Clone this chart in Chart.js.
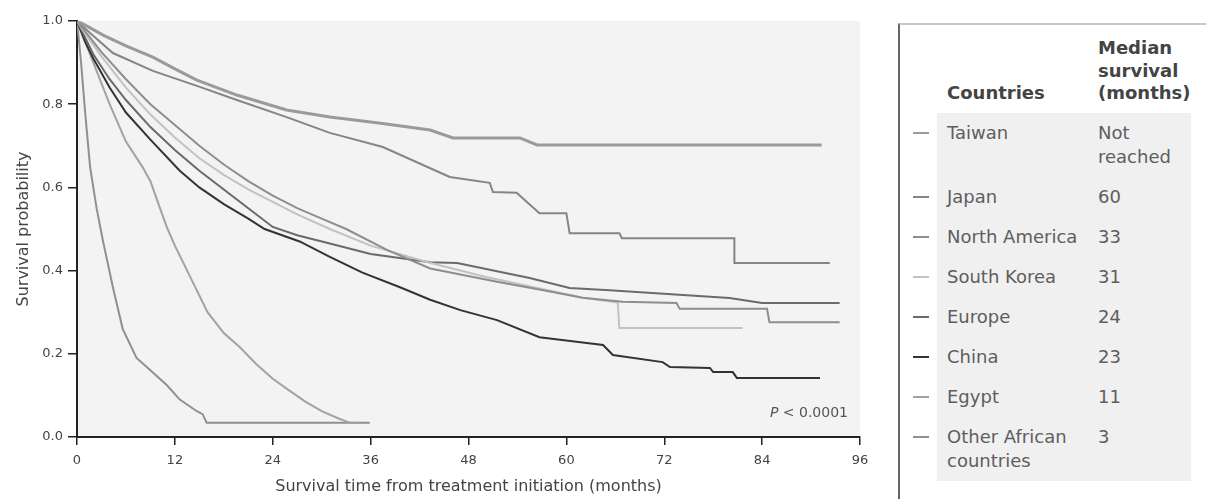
<!DOCTYPE html>
<html>
<head>
<meta charset="utf-8">
<script src="https://cdn.jsdelivr.net/npm/chart.js@4.4.1/dist/chart.umd.min.js"></script>
<style>
  body { margin: 0; background: #fff; width: 1206px; height: 499px; overflow: hidden; position: relative; font-family: "DejaVu Sans", sans-serif; }
  #wrap { position: absolute; left: 0; top: 0; width: 880px; height: 499px; }
  #legend { position: absolute; left: 898px; top: 23px; width: 308px; height: 476px; border-left: 2px solid #666; border-top: 2px solid #c8c8c8; background: #fff; }
  #legend table { position: absolute; left: 10px; top: 0; border-collapse: collapse; }
  #legend td { padding: 8px 0; line-height: 24px; font-size: 18px; color: #5e5e5e; vertical-align: top; }
  #legend th { font-weight: bold; font-size: 18px; line-height: 22.5px; color: #444; text-align: left; vertical-align: bottom; padding: 12px 0 8px 0; }
  #legend .c1 { width: 27px; }
  #legend .c2 { width: 151px; padding-left: 10px; }
  #legend .c3 { width: 92px; }
  #legend tbody .c2, #legend tbody .c3 { background: #f0f0f0; }
  #legend .mark { display: inline-block; width: 16px; height: 2px; margin: 11px 0 0 3px; vertical-align: top; }
</style>
</head>
<body>
<div id="wrap"><canvas id="kmChart" width="880" height="499"></canvas></div>
<div id="legend"></div>
<script>
// Kaplan-Meier curves, months vs survival probability
const xTicks = [0, 12, 24, 36, 48, 60, 72, 84, 96];
const yTicks = ["0.0", "0.2", "0.4", "0.6", "0.8", "1.0"];

const countries = ["Taiwan", "Japan", "North America", "South Korea", "Europe", "China", "Egypt", "Other African countries"];
const medians = ["Not reached", "60", "33", "31", "24", "23", "11", "3"];

const taiwanT = [0, 1, 3.2, 6, 9.3, 12, 14.7, 19.6, 25.7, 31, 37, 43.3, 46.1, 54.3, 56.4, 91.3];
const taiwanS = [1.0, 0.99, 0.966, 0.94, 0.913, 0.885, 0.858, 0.822, 0.786, 0.769, 0.755, 0.738, 0.719, 0.719, 0.702, 0.702];

const japanT = [0, 1.6, 4.4, 9.3, 14.7, 19.6, 25.7, 31, 37.5, 45.7, 50.6, 51, 53.9, 56.7, 60, 60.4, 66.5, 66.8, 80.6, 80.6, 92.3];
const japanS = [1.0, 0.971, 0.923, 0.88, 0.844, 0.81, 0.769, 0.731, 0.697, 0.625, 0.611, 0.589, 0.587, 0.538, 0.538, 0.49, 0.49, 0.478, 0.478, 0.418, 0.418];

const northAmericaT = [0, 1, 3, 6, 9, 12, 15, 18, 21, 24, 27, 30, 33, 38, 43.3, 51.5, 58, 62, 66.9, 73.5, 73.9, 84.6, 84.9, 93.5];
const northAmericaS = [1.0, 0.975, 0.925, 0.86, 0.8, 0.75, 0.7, 0.655, 0.615, 0.58, 0.55, 0.525, 0.5, 0.45, 0.405, 0.373, 0.35, 0.335, 0.325, 0.322, 0.308, 0.308, 0.276, 0.276];

const southKoreaT = [0, 1, 3, 6, 9, 12, 15, 18, 21, 24, 27, 31, 36, 43, 50, 56, 62, 66.3, 66.5, 81.6];
const southKoreaS = [1.0, 0.97, 0.915, 0.84, 0.775, 0.72, 0.67, 0.63, 0.595, 0.565, 0.535, 0.5, 0.46, 0.42, 0.385, 0.36, 0.335, 0.323, 0.262, 0.262];

const europeT = [0, 1, 2, 4, 6, 9, 12, 15, 18, 21, 24, 27, 31, 36, 43.3, 46.6, 55.5, 60.4, 65.3, 80, 84, 93.5];
const europeS = [1.0, 0.96, 0.92, 0.86, 0.81, 0.745, 0.69, 0.64, 0.595, 0.55, 0.505, 0.485, 0.465, 0.44, 0.42, 0.418, 0.382, 0.358, 0.353, 0.334, 0.322, 0.322];

const chinaT = [0, 1, 2, 4, 6, 9, 12.6, 15, 18, 21, 23, 27.3, 31, 35, 39.6, 43.3, 47, 51.5, 56.7, 62.5, 64.5, 65.7, 71.8, 72.7, 77.6, 78, 80.4, 80.9, 91.1];
const chinaS = [1.0, 0.95, 0.91, 0.84, 0.78, 0.715, 0.64, 0.6, 0.56, 0.525, 0.5, 0.47, 0.433, 0.395, 0.36, 0.33, 0.305, 0.281, 0.24, 0.226, 0.221, 0.197, 0.18, 0.168, 0.166, 0.156, 0.156, 0.142, 0.142];

const egyptT = [0, 1, 2, 4, 6, 8, 9, 10, 11, 12, 14, 16, 18, 20, 22, 24, 26, 28, 30, 32, 33.5, 34.5];
const egyptS = [1.0, 0.95, 0.9, 0.8, 0.71, 0.65, 0.615, 0.56, 0.505, 0.46, 0.38, 0.3, 0.25, 0.215, 0.175, 0.14, 0.112, 0.085, 0.062, 0.045, 0.034, 0.034];

const otherAfricaT = [0, 0.5, 1, 1.6, 2.4, 3.2, 4.4, 5.6, 7.3, 9.3, 11, 12.6, 14.7, 15.4, 15.9, 35.9];
const otherAfricaS = [1.0, 0.9, 0.78, 0.65, 0.55, 0.47, 0.36, 0.26, 0.19, 0.155, 0.125, 0.09, 0.062, 0.055, 0.034, 0.034];

const seriesT = [taiwanT, japanT, northAmericaT, southKoreaT, europeT, chinaT, egyptT, otherAfricaT];
const seriesS = [taiwanS, japanS, northAmericaS, southKoreaS, europeS, chinaS, egyptS, otherAfricaS];
const colors = ["#9a9a9a", "#858585", "#8e8e8e", "#c2c2c2", "#6a6a6a", "#333333", "#a2a2a2", "#909090"];

function toPoints(t, s) {
  return t.map((v, i) => ({ x: v, y: s[i] }));
}

const datasets = countries.map((name, i) => ({
  label: name,
  data: toPoints(seriesT[i], seriesS[i]),
  borderColor: colors[i],
  borderWidth: i === 0 ? 3 : 2,
  pointRadius: 0,
  tension: 0,
  fill: false,
}));

// light gray plot background
const plotBg = {
  id: "plotBg",
  beforeDraw(chart) {
    const { ctx, chartArea: a } = chart;
    ctx.save();
    ctx.fillStyle = "#f3f3f3";
    ctx.fillRect(a.left, a.top, a.right - a.left, a.bottom - a.top);
    ctx.restore();
  },
};

// P value note
const pNote = {
  id: "pNote",
  afterDraw(chart) {
    const { ctx } = chart;
    ctx.save();
    ctx.fillStyle = "#555";
    ctx.textBaseline = "middle";
    ctx.textAlign = "right";
    ctx.font = "14px 'DejaVu Sans'";
    const rest = " < 0.0001";
    ctx.fillText(rest, 848, 413);
    const w = ctx.measureText(rest).width;
    ctx.font = "italic 14px 'DejaVu Sans'";
    ctx.fillText("P", 848 - w, 413);
    ctx.restore();
  },
};

Chart.defaults.font.family = "'DejaVu Sans', sans-serif";
Chart.defaults.color = "#444";

const kmChart = new Chart(document.getElementById("kmChart").getContext("2d"), {
  type: "line",
  data: { datasets: datasets },
  options: {
    responsive: false,
    animation: false,
    layout: { padding: { top: 21, right: 20, left: 0, bottom: 0 } },
    scales: {
      x: {
        type: "linear",
        min: 0,
        max: 96,
        afterFit(scale) { scale.height = 62; },
        afterBuildTicks(scale) { scale.ticks = xTicks.map((v) => ({ value: v })); },
        ticks: { color: "#444", padding: 8, font: { size: 13 } },
        grid: { drawOnChartArea: false, drawTicks: true, tickLength: 8, color: "#222", lineWidth: 1.5 },
        border: { display: true, color: "#222", width: 2 },
        title: {
          display: true,
          text: "Survival time from treatment initiation (months)",
          color: "#444",
          font: { size: 16, lineHeight: 1.2 },
          padding: { top: 0, bottom: 2.4 },
        },
      },
      y: {
        min: 0,
        max: 1,
        afterFit(scale) { scale.width = 77; },
        afterBuildTicks(scale) { scale.ticks = yTicks.map((v) => ({ value: parseFloat(v) })); },
        ticks: {
          color: "#444",
          padding: 5,
          font: { size: 13 },
          callback: (v) => yTicks.find((t) => parseFloat(t) === v),
        },
        grid: { drawOnChartArea: false, drawTicks: true, tickLength: 9, color: "#222", lineWidth: 1.5 },
        border: { display: true, color: "#222", width: 2 },
        title: {
          display: true,
          text: "Survival probability",
          color: "#444",
          font: { size: 16, lineHeight: 1.2 },
          padding: { top: 14, bottom: 0 },
        },
      },
    },
    plugins: {
      legend: { display: false },
      tooltip: { enabled: false },
    },
  },
  plugins: [plotBg, pNote],
});

// table legend on the right
let html = '<table><thead><tr><th class="c1"></th><th class="c2">Countries</th><th class="c3">Median<br>survival<br>(months)</th></tr></thead><tbody>';
countries.forEach((name, i) => {
  const label = name === "Other African countries" ? "Other African<br>countries" : name;
  const med = medians[i] === "Not reached" ? "Not<br>reached" : medians[i];
  html += '<tr><td class="c1"><span class="mark" style="background:' + colors[i] + '"></span></td>' +
    '<td class="c2">' + label + '</td><td class="c3">' + med + '</td></tr>';
});
html += "</tbody></table>";
document.getElementById("legend").innerHTML = html;
</script>
</body>
</html>
